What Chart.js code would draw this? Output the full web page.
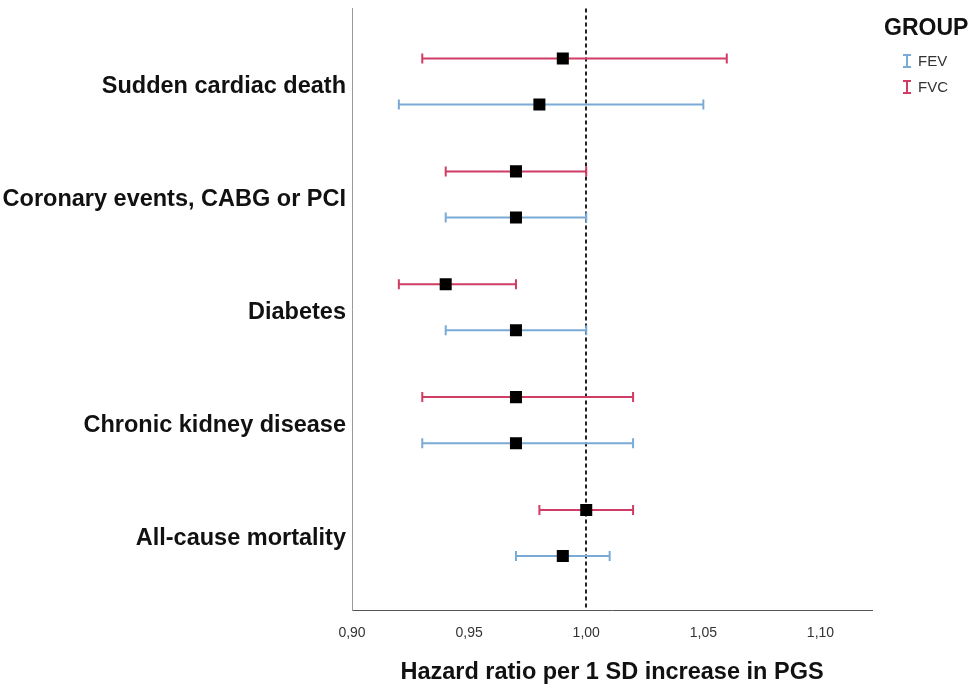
<!DOCTYPE html>
<html>
<head>
<meta charset="utf-8">
<script src="https://cdn.jsdelivr.net/npm/chart.js@4/dist/chart.umd.min.js"></script>
<style>
  html, body { margin: 0; padding: 0; background: #fff; }
  #wrap { width: 975px; height: 690px; }
</style>
</head>
<body>
<div id="wrap"><canvas id="chart" width="975" height="690"></canvas></div>
<script>
// Kategoriler (yukaridan asagiya)
const categories = ["Sudden cardiac death", "Coronary events, CABG or PCI", "Diabetes", "Chronic kidney disease", "All-cause mortality"];

// FEV serisi
const fevHR   = [0.98, 0.97, 0.97, 0.97, 0.99];
const fevLow  = [0.92, 0.94, 0.94, 0.93, 0.97];
const fevHigh = [1.05, 1.00, 1.00, 1.02, 1.01];

// FVC serisi
const fvcHR   = [0.99, 0.97, 0.94, 0.97, 1.00];
const fvcLow  = [0.93, 0.94, 0.92, 0.93, 0.98];
const fvcHigh = [1.06, 1.00, 0.97, 1.02, 1.02];

// Eksen tick degerleri
const xTicks = [0.90, 0.95, 1.00, 1.05, 1.10];
const refLine = 1.00;

const FEV_COLOR = "#7aaad6";
const FVC_COLOR = "#d03c64";
const FVC_OFF = -0.204, FEV_OFF = 0.204;
const FONT = "'Liberation Sans', Arial, sans-serif";

function points(hr, low, high, off) {
  return hr.map((v, i) => ({ x: v, y: i + off, low: low[i], high: high[i] }));
}

// Hata cubuklari + referans cizgisi + lejant
const forestPlugin = {
  id: "forest",
  beforeDatasetsDraw(chart) {
    const { ctx, scales: { x, y }, chartArea } = chart;
    ctx.save();
    // kesikli referans cizgisi
    ctx.strokeStyle = "#222";
    ctx.lineWidth = 2;
    ctx.setLineDash([4, 3]);
    const rx = Math.round(x.getPixelForValue(refLine));
    ctx.beginPath();
    ctx.moveTo(rx, chartArea.top);
    ctx.lineTo(rx, chartArea.bottom);
    ctx.stroke();
    ctx.setLineDash([]);

    chart.data.datasets.forEach(ds => {
      ctx.strokeStyle = ds.barColor;
      ctx.lineWidth = 2;
      ds.data.forEach(p => {
        const py = y.getPixelForValue(p.y);
        const x1 = x.getPixelForValue(p.low);
        const x2 = x.getPixelForValue(p.high);
        ctx.beginPath();
        ctx.moveTo(x1, py); ctx.lineTo(x2, py);
        ctx.moveTo(x1, py - 5); ctx.lineTo(x1, py + 5);
        ctx.moveTo(x2, py - 5); ctx.lineTo(x2, py + 5);
        ctx.stroke();
      });
    });
    ctx.restore();
  },
  afterDraw(chart) {
    const { ctx, chartArea } = chart;
    ctx.save();
    // x ekseni basligi
    ctx.fillStyle = "#111";
    ctx.font = "bold 23.5px " + FONT;
    ctx.textAlign = "center";
    ctx.textBaseline = "middle";
    ctx.fillText("Hazard ratio per 1 SD increase in PGS", (chartArea.left + chartArea.right) / 2, 673);

    // lejant
    ctx.textAlign = "left";
    ctx.font = "bold 23px " + FONT;
    ctx.fillText("GROUP", 884, 29);
    ctx.font = "15px " + FONT;
    ctx.fillStyle = "#333";
    chart.data.datasets.slice().reverse().forEach((ds, i) => {
      const cy = 61 + i * 26;
      ctx.strokeStyle = ds.barColor;
      ctx.lineWidth = 2;
      ctx.beginPath();
      ctx.moveTo(903, cy - 6); ctx.lineTo(911, cy - 6);
      ctx.moveTo(907, cy - 6); ctx.lineTo(907, cy + 6);
      ctx.moveTo(903, cy + 6); ctx.lineTo(911, cy + 6);
      ctx.stroke();
      ctx.fillText(ds.label, 918, cy + 1);
    });
    ctx.restore();
  }
};

new Chart(document.getElementById("chart"), {
  type: "scatter",
  data: {
    datasets: [
      {
        label: "FVC",
        data: points(fvcHR, fvcLow, fvcHigh, FVC_OFF),
        barColor: FVC_COLOR,
        pointStyle: "rect",
        pointRadius: 8.5,
        pointHoverRadius: 8.5,
        backgroundColor: "#000",
        borderColor: "#000",
        borderWidth: 0
      },
      {
        label: "FEV",
        data: points(fevHR, fevLow, fevHigh, FEV_OFF),
        barColor: FEV_COLOR,
        pointStyle: "rect",
        pointRadius: 8.5,
        pointHoverRadius: 8.5,
        backgroundColor: "#000",
        borderColor: "#000",
        borderWidth: 0
      }
    ]
  },
  options: {
    responsive: false,
    animation: false,
    layout: { padding: { top: 2, right: 103, left: 0, bottom: 0 } },
    plugins: {
      legend: { display: false },
      tooltip: { enabled: false }
    },
    scales: {
      x: {
        type: "linear",
        min: 0.90,
        max: 1.122,
        afterBuildTicks: s => { s.ticks = xTicks.map(v => ({ value: v })); },
        afterFit: s => { s.height = 80; },
        grid: { display: false, drawTicks: false },
        border: { display: true, color: "#555", width: 1 },
        ticks: {
          padding: 15,
          color: "#333",
          font: { size: 14, family: FONT },
          callback: v => v.toFixed(2).replace(".", ",")
        }
      },
      y: {
        type: "linear",
        reverse: true,
        min: -0.647,
        max: 4.682,
        afterBuildTicks: s => { s.ticks = categories.map((c, i) => ({ value: i })); },
        afterFit: s => { s.width = 352; s.paddingTop = 0; s.paddingBottom = 0; },
        grid: { display: false, drawTicks: false },
        border: { display: true, color: "#999", width: 1 },
        ticks: {
          padding: 6,
          labelOffset: 5,
          color: "#111",
          font: { size: 23.5, weight: "bold", family: FONT },
          callback: v => categories[v]
        }
      }
    }
  },
  plugins: [forestPlugin]
});
</script>
</body>
</html>
